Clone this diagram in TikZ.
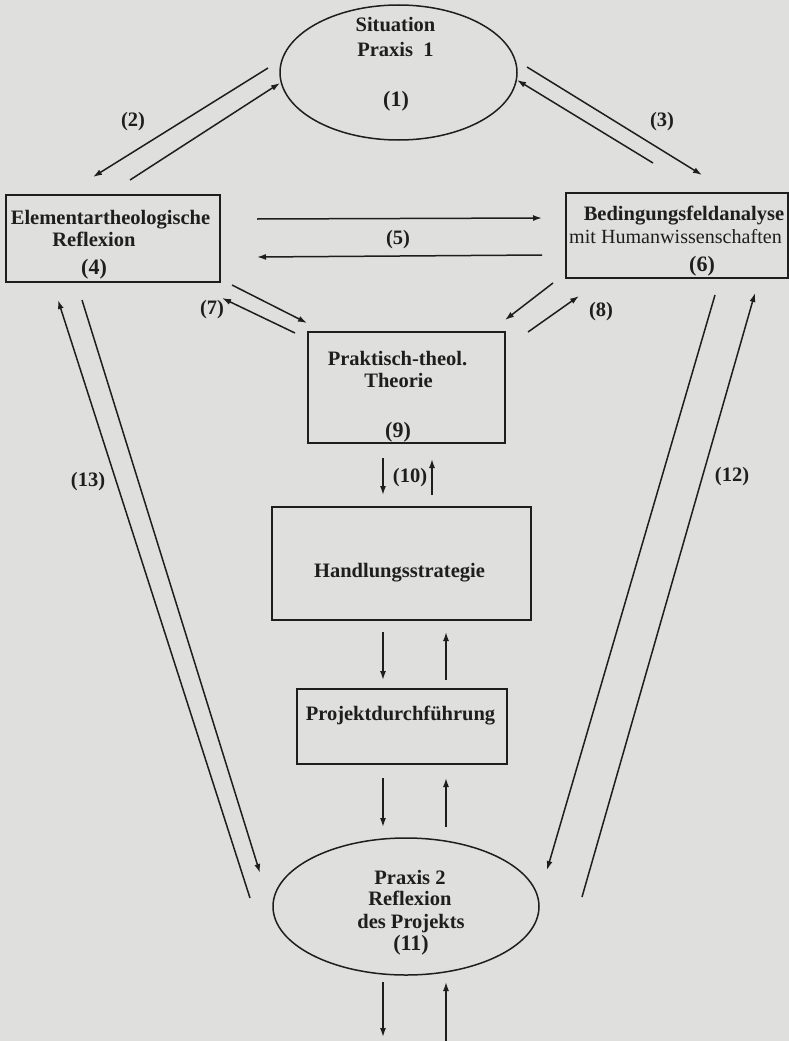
\documentclass[tikz,border=0pt]{standalone}
\usepackage{fontspec}
\setmainfont{Liberation Serif}
\usetikzlibrary{shapes.geometric,arrows.meta}
\definecolor{ink}{HTML}{1E1E1E}
\definecolor{paper}{HTML}{DFDFDD}
\begin{document}
\begin{tikzpicture}[x=1pt,y=-1pt,
  ln/.style={line width=1.5pt, draw=ink},
  arr/.style={ln, -{Latex[length=9pt,width=6pt]}},
  txt/.style={font=\fontsize{20.5}{24}\selectfont\bfseries, text=ink, inner sep=0pt, anchor=base},
  rtxt/.style={font=\fontsize{20.1}{24}\selectfont, text=ink, inner sep=0pt, anchor=base},
  num/.style={font=\fontsize{22}{26}\selectfont\bfseries, text=ink, inner sep=0pt, anchor=base},
  lab/.style={font=\fontsize{20.5}{24}\selectfont\bfseries, text=ink, inner sep=0pt},
  box/.style={draw=ink, line width=1.5pt, inner sep=0pt, rectangle},
  oval/.style={draw=ink, line width=1.5pt, inner sep=0pt, ellipse},
]
\fill[paper] (0,0) rectangle (789,1041);
\useasboundingbox (0,0) rectangle (789,1041);

% ---- shapes ----
\node[oval, minimum width=237pt, minimum height=135pt] (e1) at (398.5,72.5) {};
\node[box, minimum width=214pt, minimum height=87pt] (b4) at (113,238.5) {};
\node[box, minimum width=222pt, minimum height=85pt] (b6) at (677,235.5) {};
\node[box, minimum width=197pt, minimum height=111pt] (b9) at (406.5,387.5) {};
\node[box, minimum width=259pt, minimum height=113pt] (bh) at (401.5,563.5) {};
\node[box, minimum width=210pt, minimum height=75pt] (bp) at (402,726.5) {};
\node[oval, minimum width=266pt, minimum height=137pt] (e11) at (406,906.5) {};

% ---- texts ----
\node[txt] (t1a) at (395.5,32) {Situation};
\node[txt] (t1b) at (395.5,57) {Praxis\ \ 1};
\node[num] (t1c) at (396,106) {(1)};

\node[txt] (t4a) at (110.5,224) {Elementartheologische};
\node[txt] (t4b) at (94,246) {Reflexion};
\node[num] (t4c) at (94,274) {(4)};

\node[txt] (t6a) at (684,220) {Bedingungsfeldanalyse};
\node[rtxt] (t6b) at (675.5,243) {mit Humanwissenschaften};
\node[num] (t6c) at (702,271) {(6)};

\node[txt] (t9a) at (397.5,365) {Praktisch-theol.};
\node[txt] (t9b) at (398.5,387) {Theorie};
\node[num] (t9c) at (398,437) {(9)};

\node[txt] (th) at (399.5,577) {Handlungsstrategie};
\node[txt] (tp) at (400.5,720) {Projektdurchführung};

\node[txt] (t11a) at (410,884) {Praxis 2};
\node[txt] (t11b) at (410,905) {Reflexion};
\node[txt] (t11c) at (411,928) {des Projekts};
\node[num] (t11d) at (411,950) {(11)};

% ---- connector labels ----
\node[lab] (l2) at (133,122) {(2)};
\node[lab] (l3) at (662,122) {(3)};
\node[lab] (l5) at (398,240) {(5)};
\node[lab] (l7) at (212,310) {(7)};
\node[lab] (l8) at (601,312) {(8)};
\node[lab] (l10) at (410,478) {(10)};
\node[lab] (l12) at (732,477) {(12)};
\node[lab] (l13) at (88,482) {(13)};

% ---- connector end points ----
\coordinate (c2a) at (268,68);  \coordinate (c2b) at (93,177);
\coordinate (c2c) at (130,180); \coordinate (c2d) at (280,83);
\coordinate (c3a) at (527,67);  \coordinate (c3b) at (702,175);
\coordinate (c3c) at (653,163); \coordinate (c3d) at (517,80);
\coordinate (c5a) at (257,219); \coordinate (c5b) at (542,218);
\coordinate (c5c) at (542,255); \coordinate (c5d) at (257,257);
\coordinate (c7a) at (295,333); \coordinate (c7b) at (222,298);
\coordinate (c7c) at (232,285); \coordinate (c7d) at (307,323);
\coordinate (c8a) at (553,283); \coordinate (c8b) at (505,320);
\coordinate (c8c) at (528,332); \coordinate (c8d) at (579,296);
\coordinate (c10a) at (383,458); \coordinate (c10b) at (383,495);
\coordinate (c10c) at (432,495); \coordinate (c10d) at (432,459);
\coordinate (chpa) at (383,632); \coordinate (chpb) at (383,680);
\coordinate (chpc) at (446,680); \coordinate (chpd) at (446,632);
\coordinate (cpea) at (383,778); \coordinate (cpeb) at (383,827);
\coordinate (cpec) at (446,827); \coordinate (cped) at (446,778);
\coordinate (cbea) at (383,982); \coordinate (cbeb) at (383,1037);
\coordinate (cbec) at (446,1041); \coordinate (cbed) at (446,982);
\coordinate (c12a) at (715,295); \coordinate (c12b) at (547,870);
\coordinate (c12c) at (582,897); \coordinate (c12d) at (755,293);
\coordinate (c13a) at (250,898); \coordinate (c13b) at (58,300);
\coordinate (c13c) at (82,300);  \coordinate (c13d) at (260,873);

% ---- connectors ----
\draw[arr] (c2a) -- (c2b);
\draw[arr] (c2c) -- (c2d);
\draw[arr] (c3a) -- (c3b);
\draw[arr] (c3c) -- (c3d);
\draw[arr] (c5a) -- (c5b);
\draw[arr] (c5c) -- (c5d);
\draw[arr] (c7a) -- (c7b);
\draw[arr] (c7c) -- (c7d);
\draw[arr] (c8a) -- (c8b);
\draw[arr] (c8c) -- (c8d);
\draw[arr] (c10a) -- (c10b);
\draw[arr] (c10c) -- (c10d);
\draw[arr] (chpa) -- (chpb);
\draw[arr] (chpc) -- (chpd);
\draw[arr] (cpea) -- (cpeb);
\draw[arr] (cpec) -- (cped);
\draw[arr] (cbea) -- (cbeb);
\draw[arr] (cbec) -- (cbed);
\draw[arr] (c12a) -- (c12b);
\draw[arr] (c12c) -- (c12d);
\draw[arr] (c13a) -- (c13b);
\draw[arr] (c13c) -- (c13d);
\end{tikzpicture}
\end{document}
